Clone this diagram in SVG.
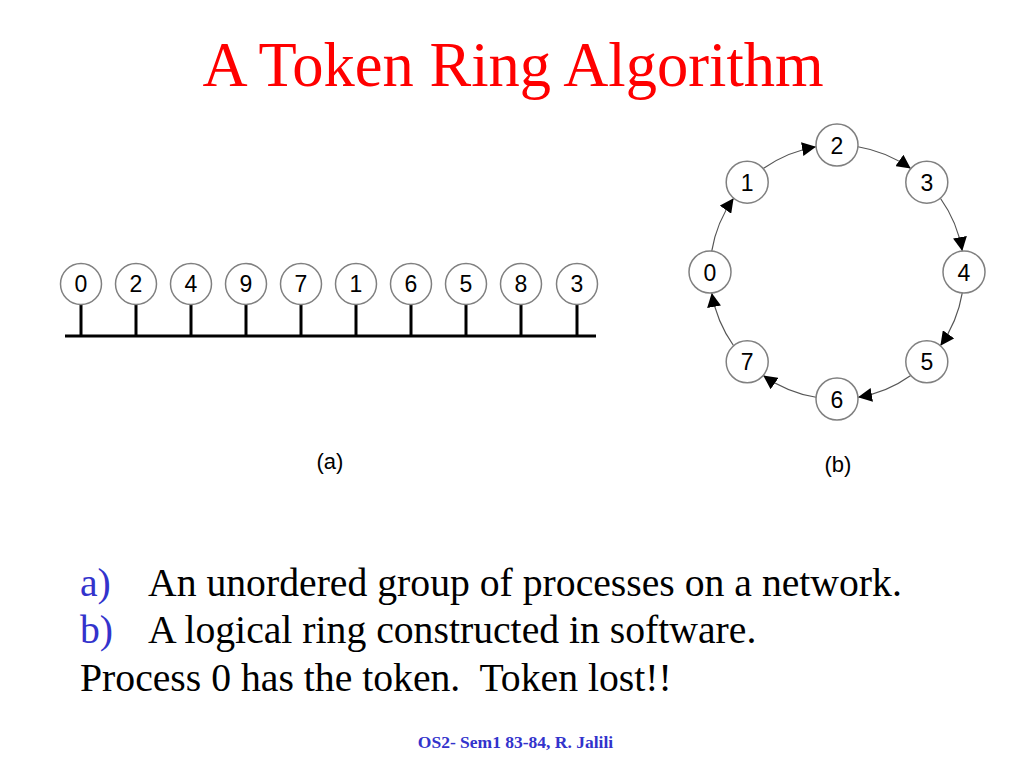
<svg xmlns="http://www.w3.org/2000/svg" width="1024" height="768" viewBox="0 0 1024 768">
<style>
.node circle{fill:#fff;stroke:#808080;stroke-width:1.5}
.node text{font-family:"Liberation Sans",Arial,sans-serif;font-size:23px;fill:#000;text-anchor:middle}
.stem{stroke:#000;stroke-width:3}
.arc{fill:none;stroke:#555;stroke-width:1.2;marker-end:url(#ah)}
.cap{font-family:"Liberation Sans",Arial,sans-serif;font-size:22px;fill:#000;text-anchor:middle}
.body{font-family:"Liberation Serif","Times New Roman",serif;font-size:39.7px;fill:#000}
.lbl{fill:#3333cc}
</style>
<defs>
<marker id="ah" markerUnits="userSpaceOnUse" markerWidth="16" markerHeight="14" refX="14" refY="7" orient="auto">
<path d="M0,0 L14,7 L0,14 Z" fill="#000"/>
</marker>
</defs>
<rect width="1024" height="768" fill="#fff"/>
<text x="513" y="86" text-anchor="middle" font-family="'Liberation Serif','Times New Roman',serif" font-size="62.5" fill="#ff0000">A Token Ring Algorithm</text>

<g id="bus">
<line x1="65" y1="336" x2="596" y2="336" stroke="#000" stroke-width="3"/>
<line class="stem" x1="81" y1="304" x2="81" y2="336"/>
<line class="stem" x1="136" y1="304" x2="136" y2="336"/>
<line class="stem" x1="191" y1="304" x2="191" y2="336"/>
<line class="stem" x1="246" y1="304" x2="246" y2="336"/>
<line class="stem" x1="301" y1="304" x2="301" y2="336"/>
<line class="stem" x1="356" y1="304" x2="356" y2="336"/>
<line class="stem" x1="411" y1="304" x2="411" y2="336"/>
<line class="stem" x1="466" y1="304" x2="466" y2="336"/>
<line class="stem" x1="521" y1="304" x2="521" y2="336"/>
<line class="stem" x1="577" y1="304" x2="577" y2="336"/>
</g>
<g id="a0" class="node"><circle cx="81" cy="284" r="20.5"/><text x="81" y="292">0</text></g>
<g id="a2" class="node"><circle cx="136" cy="284" r="20.5"/><text x="136" y="292">2</text></g>
<g id="a4" class="node"><circle cx="191" cy="284" r="20.5"/><text x="191" y="292">4</text></g>
<g id="a9" class="node"><circle cx="246" cy="284" r="20.5"/><text x="246" y="292">9</text></g>
<g id="a7" class="node"><circle cx="301" cy="284" r="20.5"/><text x="301" y="292">7</text></g>
<g id="a1" class="node"><circle cx="356" cy="284" r="20.5"/><text x="356" y="292">1</text></g>
<g id="a6" class="node"><circle cx="411" cy="284" r="20.5"/><text x="411" y="292">6</text></g>
<g id="a5" class="node"><circle cx="466" cy="284" r="20.5"/><text x="466" y="292">5</text></g>
<g id="a8" class="node"><circle cx="521" cy="284" r="20.5"/><text x="521" y="292">8</text></g>
<g id="a3" class="node"><circle cx="577" cy="284" r="20.5"/><text x="577" y="292">3</text></g>
<text class="cap" x="330" y="469">(a)</text>

<g id="connectors">
<path class="arc" d="M711.74,251.04 A127,127 0 0 1 733.61,198.25"/>
<path class="arc" d="M763.25,168.61 A127,127 0 0 1 816.04,146.74"/>
<path class="arc" d="M857.96,146.74 A127,127 0 0 1 910.75,168.61"/>
<path class="arc" d="M940.39,198.25 A127,127 0 0 1 962.26,251.04"/>
<path class="arc" d="M962.26,292.96 A127,127 0 0 1 940.39,345.75"/>
<path class="arc" d="M910.75,375.39 A127,127 0 0 1 857.96,397.26"/>
<path class="arc" d="M816.04,397.26 A127,127 0 0 1 763.25,375.39"/>
<path class="arc" d="M733.61,345.75 A127,127 0 0 1 711.74,292.96"/>
</g>
<g id="r0" class="node"><circle cx="710" cy="272" r="21"/><text x="710" y="280.5">0</text></g>
<g id="r1" class="node"><circle cx="747.2" cy="182.2" r="21"/><text x="747.2" y="190.7">1</text></g>
<g id="r2" class="node"><circle cx="837" cy="145" r="21"/><text x="837" y="153.5">2</text></g>
<g id="r3" class="node"><circle cx="926.8" cy="182.2" r="21"/><text x="926.8" y="190.7">3</text></g>
<g id="r4" class="node"><circle cx="964" cy="272" r="21"/><text x="964" y="280.5">4</text></g>
<g id="r5" class="node"><circle cx="926.8" cy="361.8" r="21"/><text x="926.8" y="370.3">5</text></g>
<g id="r6" class="node"><circle cx="837" cy="399" r="21"/><text x="837" y="407.5">6</text></g>
<g id="r7" class="node"><circle cx="747.2" cy="361.8" r="21"/><text x="747.2" y="370.3">7</text></g>
<text class="cap" x="838" y="472">(b)</text>

<text class="body" x="80" y="596"><tspan class="lbl">a)</tspan><tspan x="148">An unordered group of processes on a network.</tspan></text>
<text class="body" x="80" y="643"><tspan class="lbl">b)</tspan><tspan x="148">A logical ring constructed in software.</tspan></text>
<text class="body" x="80" y="691" xml:space="preserve">Process 0 has the token.  Token lost!!</text>
<text x="515.5" y="748" text-anchor="middle" font-family="'Liberation Serif','Times New Roman',serif" font-size="17.5" font-weight="bold" fill="#3333cc">OS2- Sem1 83-84, R. Jalili</text>
</svg>
